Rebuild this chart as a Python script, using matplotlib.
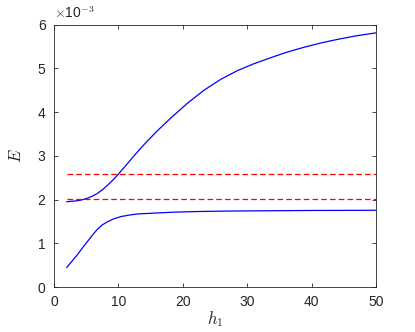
import numpy as np
import matplotlib.pyplot as plt

# values (E in units of 1e-3)
h_upper = [2, 3.5, 4.3, 5.2, 6, 6.75, 7.5, 8.3, 9.1, 9.9, 11.4, 13, 14.5, 16.1, 18.07, 20.67,
           23.26, 25.86, 28.45, 31.05, 33.6, 36.2, 38.8, 41.4, 44, 47, 50]
E_upper = [1.95, 1.97, 1.99, 2.03, 2.08, 2.14, 2.22, 2.325, 2.438, 2.562, 2.82, 3.095, 3.338,
           3.578, 3.854, 4.195, 4.495, 4.745, 4.945, 5.105, 5.24, 5.37, 5.48, 5.578, 5.66, 5.745, 5.81]
h_lower = [2, 2.8, 3.6, 4.4, 5.2, 6, 6.75, 7.5, 8.3, 9.3, 10.4, 11.7, 13, 15.6, 18.4, 22, 26, 30,
           35, 40, 45, 50]
E_lower = [0.45, 0.59, 0.73, 0.89, 1.04, 1.19, 1.32, 1.42, 1.49, 1.56, 1.61, 1.645, 1.67, 1.69,
           1.71, 1.725, 1.735, 1.74, 1.745, 1.75, 1.752, 1.755]
h_range = [2, 50]
E_levels = [2.58, 2.01]

plt.rcParams['font.family'] = ['Liberation Sans', 'DejaVu Sans']
plt.rcParams['mathtext.fontset'] = 'cm'

fig = plt.figure(figsize=(4.15, 3.32), dpi=100)
ax = fig.add_axes([0.130, 0.1355, 0.776, 0.7905])

ax.plot(h_upper, E_upper, color='b', lw=0.9)
ax.plot(h_lower, E_lower, color='b', lw=0.9)
for lev in E_levels:
    ax.plot(h_range, [lev, lev], color='r', lw=0.9, dashes=(4.5, 2.5))

ax.set_xlim(0, 50)
ax.set_ylim(0, 6)
ax.set_xticks(np.arange(0, 51, 10))
ax.set_yticks(np.arange(0, 7, 1))

grey = (0.15, 0.15, 0.15)
for s in ax.spines.values():
    s.set_color(grey)
    s.set_linewidth(0.6)
ax.tick_params(direction='in', length=3, width=0.6, colors=grey, labelsize=10,
               top=True, right=True, pad=6)

ax.set_xlabel('$h_1$', fontsize=12, color=grey, labelpad=0)
ax.set_ylabel('$E$', fontsize=12, color=grey, labelpad=10)
ax.text(0.0, 1.012, r'$\times$10$^{\mathsf{-3}}$', transform=ax.transAxes, fontsize=10,
        color=grey, ha='left', va='bottom')

fig.savefig('out.png', dpi=100)
